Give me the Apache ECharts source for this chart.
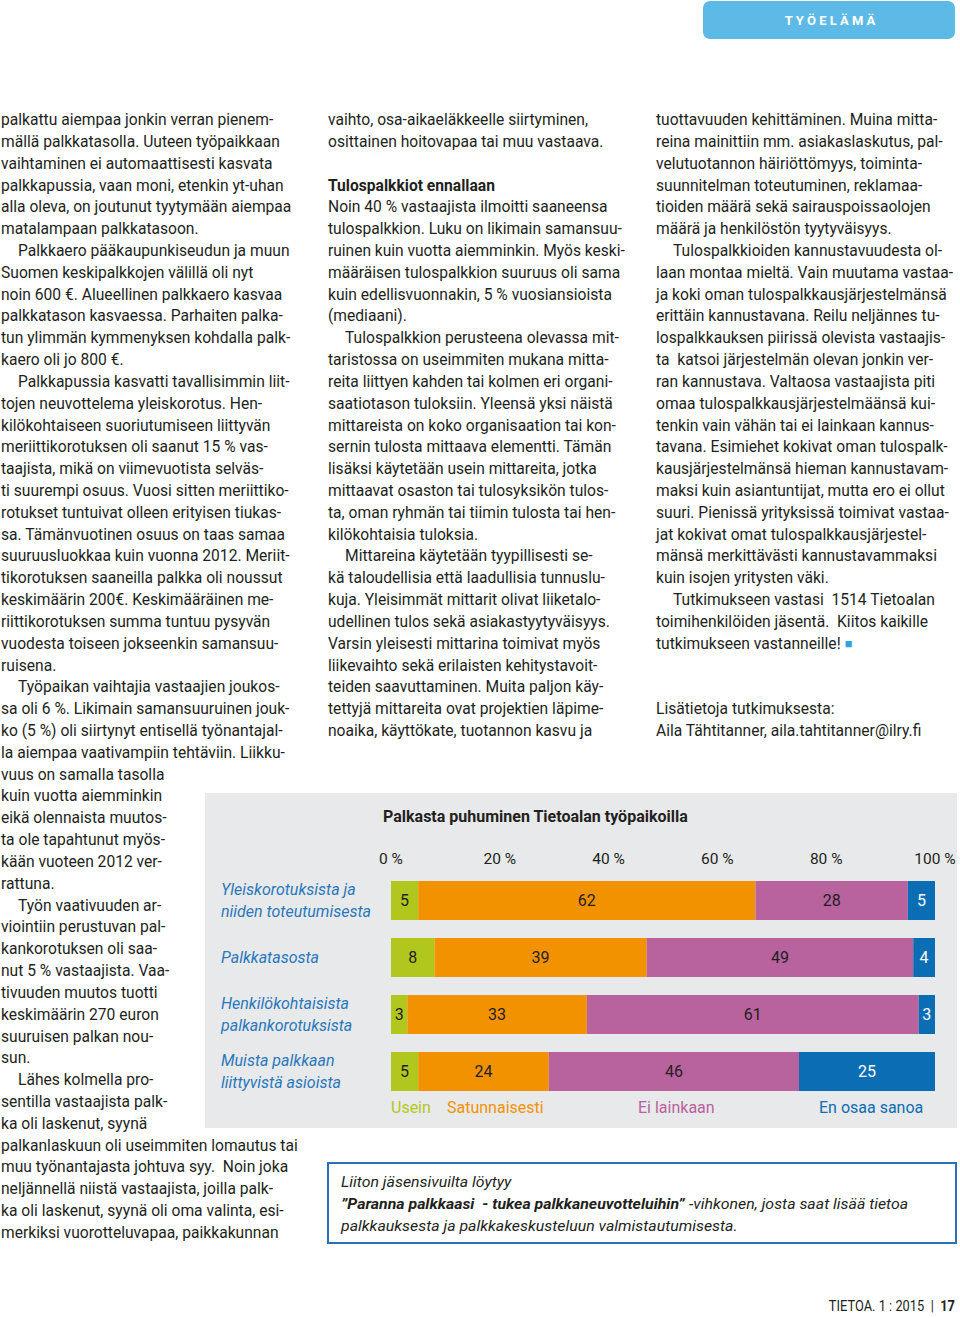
<!DOCTYPE html>
<html>
<head>
<meta charset="utf-8">
<script src="https://cdn.jsdelivr.net/npm/echarts@6.0.0/dist/echarts.min.js"></script>
<style>
html,body{margin:0;padding:0;background:#fff;}
#page{width:960px;height:1318px;}
</style>
</head>
<body>
<div id="page"></div>
<script>
// ---------- chart data ----------
const categories = ['Yleiskorotuksista ja\nniiden toteutumisesta', 'Palkkatasosta', 'Henkilökohtaisista\npalkankorotuksista', 'Muista palkkaan\nliittyvistä asioista'];
const seriesNames = ['Usein', 'Satunnaisesti', 'Ei lainkaan', 'En osaa sanoa'];
const usein = [5, 8, 3, 5];
const satunnaisesti = [62, 39, 33, 24];
const eiLainkaan = [28, 49, 61, 46];
const enOsaaSanoa = [5, 4, 3, 25];
const tickSuffix = ' %';
const chartTitle = 'Palkasta puhuminen Tietoalan työpaikoilla';

// ---------- page text ----------
const headerTab = 'T Y Ö E L Ä M Ä';
const col1 = [
'palkattu aiempaa jonkin verran pienem-',
'mällä palkkatasolla. Uuteen työpaikkaan',
'vaihtaminen ei automaattisesti kasvata',
'palkkapussia, vaan moni, etenkin yt-uhan',
'alla oleva, on joutunut tyytymään aiempaa',
'matalampaan palkkatasoon.',
'>Palkkaero pääkaupunkiseudun ja muun',
'Suomen keskipalkkojen välillä oli nyt',
'noin 600 €. Alueellinen palkkaero kasvaa',
'palkkatason kasvaessa. Parhaiten palka-',
'tun ylimmän kymmenyksen kohdalla palk-',
'kaero oli jo 800 €.',
'>Palkkapussia kasvatti tavallisimmin liit-',
'tojen neuvottelema yleiskorotus. Hen-',
'kilökohtaiseen suoriutumiseen liittyvän',
'meriittikorotuksen oli saanut 15 % vas-',
'taajista, mikä on viimevuotista selväs-',
'ti suurempi osuus. Vuosi sitten meriittiko-',
'rotukset tuntuivat olleen erityisen tiukas-',
'sa. Tämänvuotinen osuus on taas samaa',
'suuruusluokkaa kuin vuonna 2012. Meriit-',
'tikorotuksen saaneilla palkka oli noussut',
'keskimäärin 200€. Keskimääräinen me-',
'riittikorotuksen summa tuntuu pysyvän',
'vuodesta toiseen jokseenkin samansuu-',
'ruisena.',
'>Työpaikan vaihtajia vastaajien joukos-',
'sa oli 6 %. Likimain samansuuruinen jouk-',
'ko (5 %) oli siirtynyt entisellä työnantajal-',
'la aiempaa vaativampiin tehtäviin. Liikku-',
'vuus on samalla tasolla',
'kuin vuotta aiemminkin',
'eikä olennaista muutos-',
'ta ole tapahtunut myös-',
'kään vuoteen 2012 ver-',
'rattuna.',
'>Työn vaativuuden ar-',
'viointiin perustuvan pal-',
'kankorotuksen oli saa-',
'nut 5 % vastaajista. Vaa-',
'tivuuden muutos tuotti',
'keskimäärin 270 euron',
'suuruisen palkan nou-',
'sun.',
'>Lähes kolmella pro-',
'sentilla vastaajista palk-',
'ka oli laskenut, syynä',
'palkanlaskuun oli useimmiten lomautus tai',
'muu työnantajasta johtuva syy.  Noin joka',
'neljännellä niistä vastaajista, joilla palk-',
'ka oli laskenut, syynä oli oma valinta, esi-',
'merkiksi vuorotteluvapaa, paikkakunnan'
];
const col2 = [
'vaihto, osa-aikaeläkkeelle siirtyminen,',
'osittainen hoitovapaa tai muu vastaava.',
'',
'#Tulospalkkiot ennallaan',
'Noin 40 % vastaajista ilmoitti saaneensa',
'tulospalkkion. Luku on likimain samansuu-',
'ruinen kuin vuotta aiemminkin. Myös keski-',
'määräisen tulospalkkion suuruus oli sama',
'kuin edellisvuonnakin, 5 % vuosiansioista',
'(mediaani).',
'>Tulospalkkion perusteena olevassa mit-',
'taristossa on useimmiten mukana mitta-',
'reita liittyen kahden tai kolmen eri organi-',
'saatiotason tuloksiin. Yleensä yksi näistä',
'mittareista on koko organisaation tai kon-',
'sernin tulosta mittaava elementti. Tämän',
'lisäksi käytetään usein mittareita, jotka',
'mittaavat osaston tai tulosyksikön tulos-',
'ta, oman ryhmän tai tiimin tulosta tai hen-',
'kilökohtaisia tuloksia.',
'>Mittareina käytetään tyypillisesti se-',
'kä taloudellisia että laadullisia tunnuslu-',
'kuja. Yleisimmät mittarit olivat liiketalo-',
'udellinen tulos sekä asiakastyytyväisyys.',
'Varsin yleisesti mittarina toimivat myös',
'liikevaihto sekä erilaisten kehitystavoit-',
'teiden saavuttaminen. Muita paljon käy-',
'tettyjä mittareita ovat projektien läpime-',
'noaika, käyttökate, tuotannon kasvu ja'
];
const col3 = [
'tuottavuuden kehittäminen. Muina mitta-',
'reina mainittiin mm. asiakaslaskutus, pal-',
'velutuotannon häiriöttömyys, toiminta-',
'suunnitelman toteutuminen, reklamaa-',
'tioiden määrä sekä sairauspoissaolojen',
'määrä ja henkilöstön tyytyväisyys.',
'>Tulospalkkioiden kannustavuudesta ol-',
'laan montaa mieltä. Vain muutama vastaa-',
'ja koki oman tulospalkkausjärjestelmänsä',
'erittäin kannustavana. Reilu neljännes tu-',
'lospalkkauksen piirissä olevista vastaajis-',
'ta  katsoi järjestelmän olevan jonkin ver-',
'ran kannustava. Valtaosa vastaajista piti',
'omaa tulospalkkausjärjestelmäänsä kui-',
'tenkin vain vähän tai ei lainkaan kannus-',
'tavana. Esimiehet kokivat oman tulospalk-',
'kausjärjestelmänsä hieman kannustavam-',
'maksi kuin asiantuntijat, mutta ero ei ollut',
'suuri. Pienissä yrityksissä toimivat vastaa-',
'jat kokivat omat tulospalkkausjärjestel-',
'mänsä merkittävästi kannustavammaksi',
'kuin isojen yritysten väki.',
'>Tutkimukseen vastasi  1514 Tietoalan',
'toimihenkilöiden jäsentä.  Kiitos kaikille',
'*tutkimukseen vastanneille! ',
'',
'',
'Lisätietoja tutkimuksesta:',
'Aila Tähtitanner, aila.tahtitanner@ilry.fi'
];
const infoLine1 = 'Liiton jäsensivuilta löytyy';
const infoLine2Bold = '”Paranna palkkaasi  - tukea palkkaneuvotteluihin”';
const infoLine2Rest = ' -vihkonen, josta saat lisää tietoa';
const infoLine3 = 'palkkauksesta ja palkkakeskusteluun valmistautumisesta.';
const footerText = 'TIETOA. 1 : 2015  |  ';
const footerPage = '17';

// ---------- layout / style ----------
const FONT = 'Roboto';
const TEXT = '#231f20';
const COLORS = ['#b2c71e', '#f39200', '#b8629e', '#0b6db3'];
const LABEL_COLORS = ['#231f20', '#231f20', '#231f20', '#ffffff'];

const ctx = document.createElement('canvas').getContext('2d');
function measure(t, font) { ctx.font = font; return ctx.measureText(t).width; }
const bodyFont = '16px ' + FONT;
const s1 = 295 / measure('alla oleva, on joutunut tyytymään aiempaa', bodyFont);
const s2 = 280 / measure('Aila Tähtitanner, aila.tahtitanner@ilry.fi', bodyFont);
const bodyScale = Math.min(s1, s2) * 0.985;

const LH = 21.82, TOP = 119.5, INDENT = 17;
const graphics = [];

// grey chart panel
graphics.push({ type: 'rect', z: -10, silent: true, shape: { x: 205, y: 793, width: 752, height: 335 }, style: { fill: '#e8e9ea' } });

function addColumn(lines, x0, maxW) {
  lines.forEach((ln, i) => {
    if (!ln) return;
    let x = x0, txt = ln, weight = 'normal', rich = null, plain = ln;
    if (ln[0] === '>') { x = x0 + INDENT; txt = ln.slice(1); plain = txt; }
    else if (ln[0] === '#') { txt = ln.slice(1); plain = txt; weight = 'bold'; }
    else if (ln[0] === '*') {
      plain = ln.slice(1) + '■';
      txt = '{t|' + ln.slice(1) + '}{sq|■}';
      rich = { t: { fontSize: 16, fontFamily: FONT, fill: TEXT }, sq: { fontSize: 13, fontFamily: FONT, fill: '#2fa3dd' } };
    }
    const w = measure(plain, weight + ' 16px ' + FONT);
    const avail = maxW - (x - x0);
    const sc = Math.min(bodyScale, avail / w);
    const style = { text: txt, fontSize: 16, fontFamily: FONT, fontWeight: weight, fill: TEXT, verticalAlign: 'middle', align: 'left' };
    if (rich) style.rich = rich;
    graphics.push({ type: 'text', x: x, y: TOP + i * LH, scaleX: sc, silent: true, style: style });
  });
}
addColumn(col1, 1, 299);
addColumn(col2, 328, 297);
addColumn(col3, 656, 299);

// header tab
graphics.push({ type: 'rect', shape: { x: 703, y: 1, width: 252, height: 38, r: 7 }, style: { fill: '#5db9e5' }, silent: true });
graphics.push({ type: 'text', x: 830, y: 20, silent: true, style: { text: headerTab, fontSize: 13, fontWeight: 'bold', fontFamily: FONT, fill: '#ffffff', align: 'center', verticalAlign: 'middle' } });

// info box
graphics.push({ type: 'rect', shape: { x: 328, y: 1163, width: 628, height: 80 }, style: { fill: 'none', stroke: '#2c6fb4', lineWidth: 2 }, silent: true });
const infoScale = 397 / measure(infoLine3, 'italic 15px ' + FONT);
graphics.push({ type: 'text', x: 341, y: 1182, scaleX: infoScale, silent: true, style: { text: infoLine1, fontSize: 15, fontStyle: 'italic', fontFamily: FONT, fill: TEXT, verticalAlign: 'middle' } });
graphics.push({ type: 'text', x: 341, y: 1204, scaleX: infoScale, silent: true, style: { text: '{b|' + infoLine2Bold + '}{r|' + infoLine2Rest + '}', verticalAlign: 'middle', rich: { b: { fontSize: 15, fontStyle: 'italic', fontWeight: 'bold', fontFamily: FONT, fill: TEXT }, r: { fontSize: 15, fontStyle: 'italic', fontFamily: FONT, fill: TEXT } } } });
graphics.push({ type: 'text', x: 341, y: 1226, scaleX: infoScale, silent: true, style: { text: infoLine3, fontSize: 15, fontStyle: 'italic', fontFamily: FONT, fill: TEXT, verticalAlign: 'middle' } });

// footer
graphics.push({ type: 'text', x: 955, y: 1306, silent: true, scaleX: 0.92, style: { text: '{a|' + footerText + '}{b|' + footerPage + '}', align: 'right', verticalAlign: 'middle', rich: { a: { fontSize: 14, fontFamily: FONT, fill: TEXT }, b: { fontSize: 14, fontWeight: 'bold', fontFamily: FONT, fill: TEXT } } } });

// ---------- chart ----------
const seriesData = [usein, satunnaisesti, eiLainkaan, enOsaaSanoa];
const legendX = [391, 447, 638, 819];

const chart = echarts.init(document.getElementById('page'), null, { renderer: 'svg', width: 960, height: 1318 });
chart.setOption({
  backgroundColor: '#ffffff',
  animation: false,
  textStyle: { fontFamily: FONT },
  title: { text: chartTitle, left: 383, top: 808, padding: 0, textStyle: { fontSize: 16, fontWeight: 'bold', color: TEXT, fontFamily: FONT } },
  legend: seriesNames.map((n, i) => ({
    data: [n], left: legendX[i] - 5, top: 1099, padding: 0, icon: 'none', itemWidth: 0, itemHeight: 14,
    selectedMode: false, textStyle: { color: COLORS[i], fontSize: 16, fontFamily: FONT }
  })),
  grid: { left: 391, width: 544, top: 872, height: 228, containLabel: false },
  xAxis: {
    type: 'value', position: 'top', min: 0, max: 100, interval: 20,
    axisLine: { show: false }, axisTick: { show: false }, splitLine: { show: false },
    axisLabel: { formatter: '{value}' + tickSuffix, fontSize: 15.5, color: TEXT, margin: 5, fontFamily: FONT }
  },
  yAxis: {
    type: 'category', data: categories, inverse: true,
    axisLine: { show: false }, axisTick: { show: false },
    axisLabel: { align: 'left', margin: 170, fontSize: 16, fontStyle: 'italic', color: '#2a78bc', lineHeight: 22, fontFamily: FONT }
  },
  graphic: { elements: graphics },
  series: seriesNames.map((n, i) => ({
    name: n, type: 'bar', stack: 'total', barWidth: 39, data: seriesData[i],
    itemStyle: { color: COLORS[i] },
    label: { show: true, position: 'inside', color: LABEL_COLORS[i], fontSize: 16, fontFamily: FONT }
  }))
});
</script>
</body>
</html>
